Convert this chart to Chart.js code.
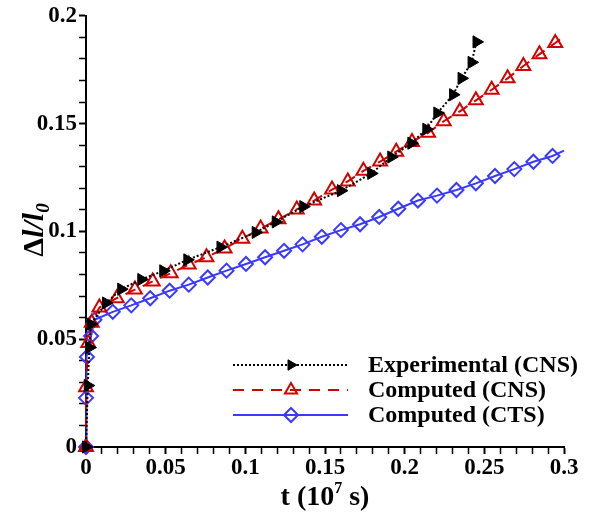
<!DOCTYPE html>
<html>
<head>
<meta charset="utf-8">
<script src="https://cdn.jsdelivr.net/npm/chart.js@4"></script>
<style>
  html, body { margin: 0; padding: 0; background: #fff; }
  #wrap { width: 592px; height: 516px; position: relative; }
</style>
</head>
<body>
<div id="wrap"><canvas id="chart"></canvas></div>
<script>
// ---- DATA ----
// Experimental (CNS)
const expT = [0, 0.0011, 0.0021, 0.003, 0.0126, 0.0221, 0.0347, 0.0485, 0.0636, 0.0844, 0.1065, 0.1191,
  0.1364, 0.16, 0.179, 0.1916, 0.2042, 0.2136, 0.2205, 0.2304, 0.2357, 0.242, 0.2451];
const expY = [0, 0.0285, 0.0461, 0.057, 0.0668, 0.0732, 0.0777, 0.0817, 0.0868, 0.0927, 0.0995, 0.1044,
  0.1115, 0.1189, 0.1269, 0.1345, 0.1409, 0.1474, 0.1549, 0.1634, 0.171, 0.1784, 0.1879];

// Computed (CNS)
const cnsT = [0, 0, 0.0014, 0.0036, 0.0084, 0.0193, 0.0307, 0.0419, 0.0532, 0.0645, 0.0756, 0.087, 0.0981,
  0.1096, 0.1208, 0.1323, 0.1432, 0.1544, 0.1643, 0.1741, 0.1846, 0.1947, 0.2046, 0.2147, 0.2245,
  0.2346, 0.2447, 0.2546, 0.2646, 0.2745, 0.2846, 0.2945, 0.3];
const cnsY = [0, 0.0277, 0.0482, 0.0576, 0.0647, 0.069, 0.073, 0.0768, 0.0806, 0.0846, 0.088, 0.0921, 0.0966,
  0.1013, 0.1056, 0.1102, 0.1143, 0.1194, 0.1232, 0.1281, 0.1324, 0.137, 0.1415, 0.1457, 0.1511,
  0.1557, 0.1608, 0.1657, 0.171, 0.1767, 0.1822, 0.1874, 0.1905];

// Computed (CTS)
const ctsT = [0, 0, 0.0006, 0.0032, 0.0053, 0.0168, 0.0284, 0.0403, 0.0525, 0.0645, 0.0764, 0.0882, 0.1004,
  0.1124, 0.1243, 0.1359, 0.148, 0.16, 0.172, 0.184, 0.196, 0.2083, 0.2203, 0.2325, 0.2447, 0.2567,
  0.2688, 0.2808, 0.2928, 0.3];
const ctsY = [0, 0.0228, 0.0418, 0.0515, 0.059, 0.0627, 0.0657, 0.069, 0.0725, 0.0753, 0.0786, 0.0818, 0.0849,
  0.088, 0.091, 0.094, 0.0975, 0.1006, 0.1033, 0.1067, 0.1105, 0.1143, 0.1166, 0.1192, 0.1223, 0.1257,
  0.1289, 0.1323, 0.135, 0.1375];

const seriesLabels = ['Experimental (CNS)', 'Computed (CNS)', 'Computed (CTS)'];
const xTickLabels = ['0', '0.05', '0.1', '0.15', '0.2', '0.25', '0.3'];
const yTickLabels = ['0', '0.05', '0.1', '0.15', '0.2'];

// ---- STYLE ----
const SERIF = "'Liberation Serif', 'DejaVu Serif', serif";
const BLACK = '#000000';
const RED = '#d40000';
const BLUE = '#3a3aff';

const toXY = (ts, ys) => ts.map((t, i) => ({ x: t, y: ys[i] }));
// last point of the computed curves is only the line end, no marker there
const endNoMarker = (n, r) => Array.from({ length: n }, (_, i) => (i === n - 1 ? 0 : r));

function tickLabel(v, list) {
  const s = String(Math.round(v * 100) / 100);
  return list.includes(s) ? s : '';
}
const isMajor = v => Math.round(v * 100) % 5 === 0;

// ---- TEXT HELPERS ----
// draws a row of text pieces (for sub/superscripts) centred on cx
function drawRuns(ctx, runs, cx, baseline) {
  let total = 0;
  runs.forEach(r => { ctx.font = r.font; total += ctx.measureText(r.text).width; });
  let x = cx - total / 2;
  runs.forEach(r => {
    ctx.font = r.font;
    ctx.fillText(r.text, x, baseline + (r.dy || 0));
    x += ctx.measureText(r.text).width;
  });
}

function legendPoint(ctx, ds, x, y) {
  ctx.save();
  ctx.fillStyle = ds.pointBackgroundColor;
  ctx.strokeStyle = ds.pointBorderColor;
  ctx.lineWidth = ds.pointBorderWidth;
  ctx.setLineDash([]);
  Chart.helpers.drawPoint(ctx, {
    pointStyle: ds.pointStyle,
    rotation: ds.pointRotation || 0,
    radius: ds.legendRadius,
    borderWidth: ds.pointBorderWidth,
  }, x, y);
  ctx.restore();
}

// ---- AXIS TITLES + IN-PLOT LEGEND ----
const annotate = {
  id: 'annotate',
  afterDraw(chart) {
    const ctx = chart.ctx;
    ctx.save();
    ctx.fillStyle = '#000';
    ctx.textAlign = 'left';
    ctx.textBaseline = 'alphabetic';

    // x title: t (10^7 s)
    const xc = (chart.chartArea.left + chart.chartArea.right) / 2;
    drawRuns(ctx, [
      { text: 't (10', font: 'bold 28px ' + SERIF },
      { text: '7', font: 'bold 16px ' + SERIF, dy: -12 },
      { text: ' s)', font: 'bold 28px ' + SERIF },
    ], xc, 505);

    // y title: Δl/l0
    ctx.save();
    ctx.translate(43, 230);
    ctx.rotate(-Math.PI / 2);
    drawRuns(ctx, [
      { text: 'Δ', font: 'bold 30px ' + SERIF },
      { text: 'l/l', font: 'italic bold 30px ' + SERIF },
      { text: '0', font: 'italic bold 19px ' + SERIF, dy: 6 },
    ], 0, 0);
    ctx.restore();

    // legend
    const rows = [365, 390, 415];
    const x1 = 233, x2 = 348, xm = 291, xt = 368;
    chart.data.datasets.forEach((ds, i) => {
      const y = rows[i];
      ctx.save();
      ctx.strokeStyle = ds.borderColor;
      ctx.lineWidth = ds.borderWidth;
      ctx.setLineDash(ds.borderDash || []);
      ctx.beginPath();
      ctx.moveTo(x1, y);
      ctx.lineTo(x2, y);
      ctx.stroke();
      ctx.restore();
      legendPoint(ctx, ds, xm, y);
      ctx.fillStyle = '#000';
      ctx.font = 'bold 24px ' + SERIF;
      ctx.textBaseline = 'middle';
      ctx.fillText(seriesLabels[i], xt, y + 1);
    });
    ctx.restore();
  }
};

// ---- CHART ----
const axisCommon = {
  type: 'linear',
  grid: {
    drawOnChartArea: false,
    drawTicks: true,
    tickLength: 7,
    tickColor: '#000',
    tickWidth: c => (c.tick && isMajor(c.tick.value) ? 2 : 1.5),
  },
  border: { display: true, color: '#000', width: 2 },
};
const tickFont = { family: SERIF, size: 23, weight: 'bold' };

new Chart(document.getElementById('chart'), {
  type: 'scatter',
  data: {
    datasets: [
      {
        label: seriesLabels[0],
        data: toXY(expT, expY),
        showLine: true,
        borderColor: BLACK,
        borderWidth: 2,
        borderDash: [2, 2],
        pointStyle: 'triangle',
        pointRotation: 90,
        pointRadius: 7,
        legendRadius: 6,
        pointBackgroundColor: BLACK,
        pointBorderColor: BLACK,
        pointBorderWidth: 1,
        order: 1,
        clip: false,
      },
      {
        label: seriesLabels[1],
        data: toXY(cnsT, cnsY),
        showLine: true,
        borderColor: RED,
        borderWidth: 2,
        borderDash: [11, 8],
        pointStyle: 'triangle',
        pointRadius: endNoMarker(cnsT.length, 8),
        legendRadius: 7,
        pointBackgroundColor: 'rgba(255,255,255,0)',
        pointBorderColor: RED,
        pointBorderWidth: 2,
        order: 2,
        clip: false,
      },
      {
        label: seriesLabels[2],
        data: toXY(ctsT, ctsY),
        showLine: true,
        borderColor: BLUE,
        borderWidth: 2,
        pointStyle: 'rectRot',
        pointRadius: endNoMarker(ctsT.length, 7),
        legendRadius: 7,
        pointBackgroundColor: 'rgba(255,255,255,0)',
        pointBorderColor: BLUE,
        pointBorderWidth: 2,
        order: 3,
        clip: false,
      },
    ]
  },
  options: {
    responsive: true,
    maintainAspectRatio: false,
    animation: false,
    layout: { padding: { left: 0, right: 28, top: 12, bottom: 0 } },
    plugins: {
      legend: { display: false },
      tooltip: { enabled: false },
    },
    elements: { line: { tension: 0 } },
    scales: {
      x: {
        ...axisCommon,
        min: 0, max: 0.3,
        ticks: {
          stepSize: 0.01,
          autoSkip: false,
          maxRotation: 0,
          padding: 0,
          color: '#000',
          font: tickFont,
          callback: v => tickLabel(v, xTickLabels),
        },
        afterFit: s => { s.height = 69; },
      },
      y: {
        ...axisCommon,
        min: 0, max: 0.2,
        ticks: {
          stepSize: 0.01,
          autoSkip: false,
          padding: 2,
          color: '#000',
          font: tickFont,
          callback: v => tickLabel(v, yTickLabels),
        },
        afterFit: s => { s.width = 86; },
      },
    }
  },
  plugins: [annotate]
});
</script>
</body>
</html>
